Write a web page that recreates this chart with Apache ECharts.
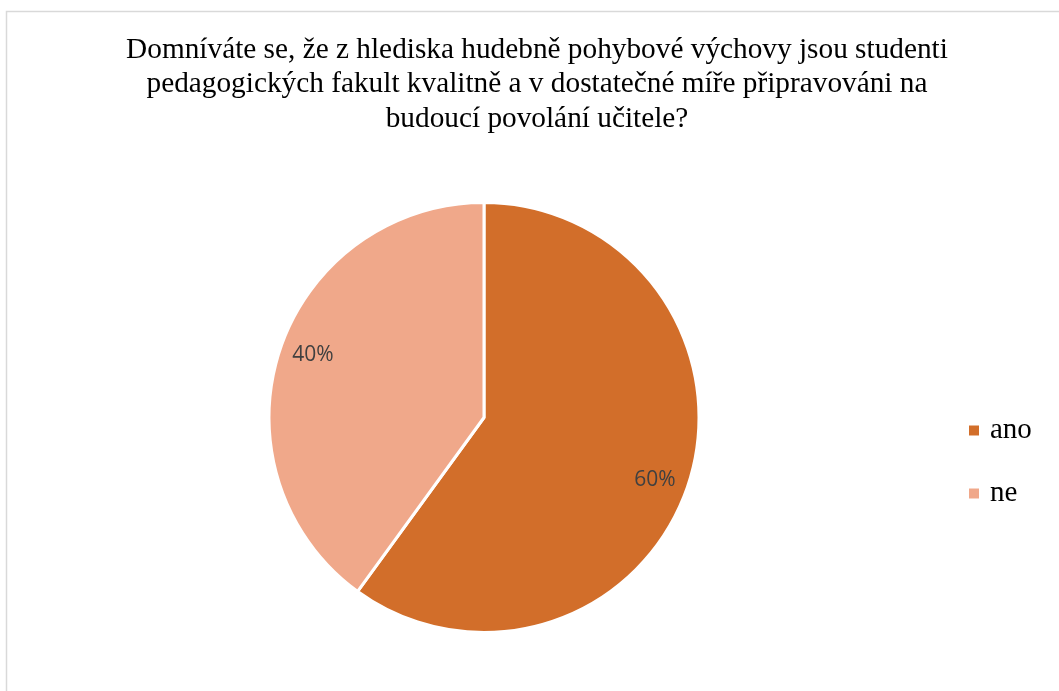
<!DOCTYPE html>
<html><head><meta charset="utf-8">
<script src="https://cdn.jsdelivr.net/npm/echarts@6/dist/echarts.min.js"></script>
<style>html,body{margin:0;padding:0;background:#fff}#c{width:1059px;height:691px}</style>
</head><body><div id="c"></div>
<script>
const titleText = "Domníváte se, že z hlediska hudebně pohybové výchovy jsou studenti\npedagogických fakult kvalitně a v dostatečné míře připravováni na\nbudoucí povolání učitele?";
const categories = ["ano", "ne"];
const values = [60, 40];
const colors = ["#D26E2A", "#F0A88A"];

const chart = echarts.init(document.getElementById('c'), null, {renderer: 'canvas'});
const pieData = categories.map((n, i) => ({name: n, value: values[i], itemStyle: {color: colors[i]}}));
chart.setOption({
  animation: false,
  backgroundColor: '#ffffff',
  graphic: [{type: 'rect', shape: {x: 6.5, y: 11.5, width: 1200, height: 1000}, style: {fill: 'none', stroke: '#d9d9d9', lineWidth: 1.5}, silent: true, z: -1}],
  title: {
    text: titleText, left: 532, top: 28, textAlign: 'center',
    textStyle: {fontFamily: 'Liberation Serif', fontSize: 29.3, fontWeight: 'normal', color: '#000', lineHeight: 34.5}
  },
  legend: {
    orient: 'vertical', left: 962, top: 411, itemWidth: 12, itemHeight: 12, itemGap: 34, icon: 'rect',
    data: categories,
    textStyle: {fontFamily: 'Liberation Serif', fontSize: 29, color: '#000', padding: [0, 0, 0, 5]}
  },
  series: [{
    type: 'pie', center: [484, 417.5], radius: 215, startAngle: 90, clockwise: true,
    data: pieData, silent: true,
    itemStyle: {borderColor: '#fff', borderWidth: 3},
    label: {show: false}, labelLine: {show: false}
  }, {
    type: 'pie', center: [484, 417.5], radius: 358, startAngle: 88, clockwise: true,
    data: categories.map((n, i) => ({name: n, value: values[i]})), silent: true,
    itemStyle: {color: 'rgba(0,0,0,0)'}, legendHoverLink: false,
    label: {show: true, position: 'inside', formatter: '{d}%', fontFamily: 'Open Sans', fontSize: 21, color: '#404040'},
    labelLine: {show: false}, z: 3
  }]
});
</script></body></html>
